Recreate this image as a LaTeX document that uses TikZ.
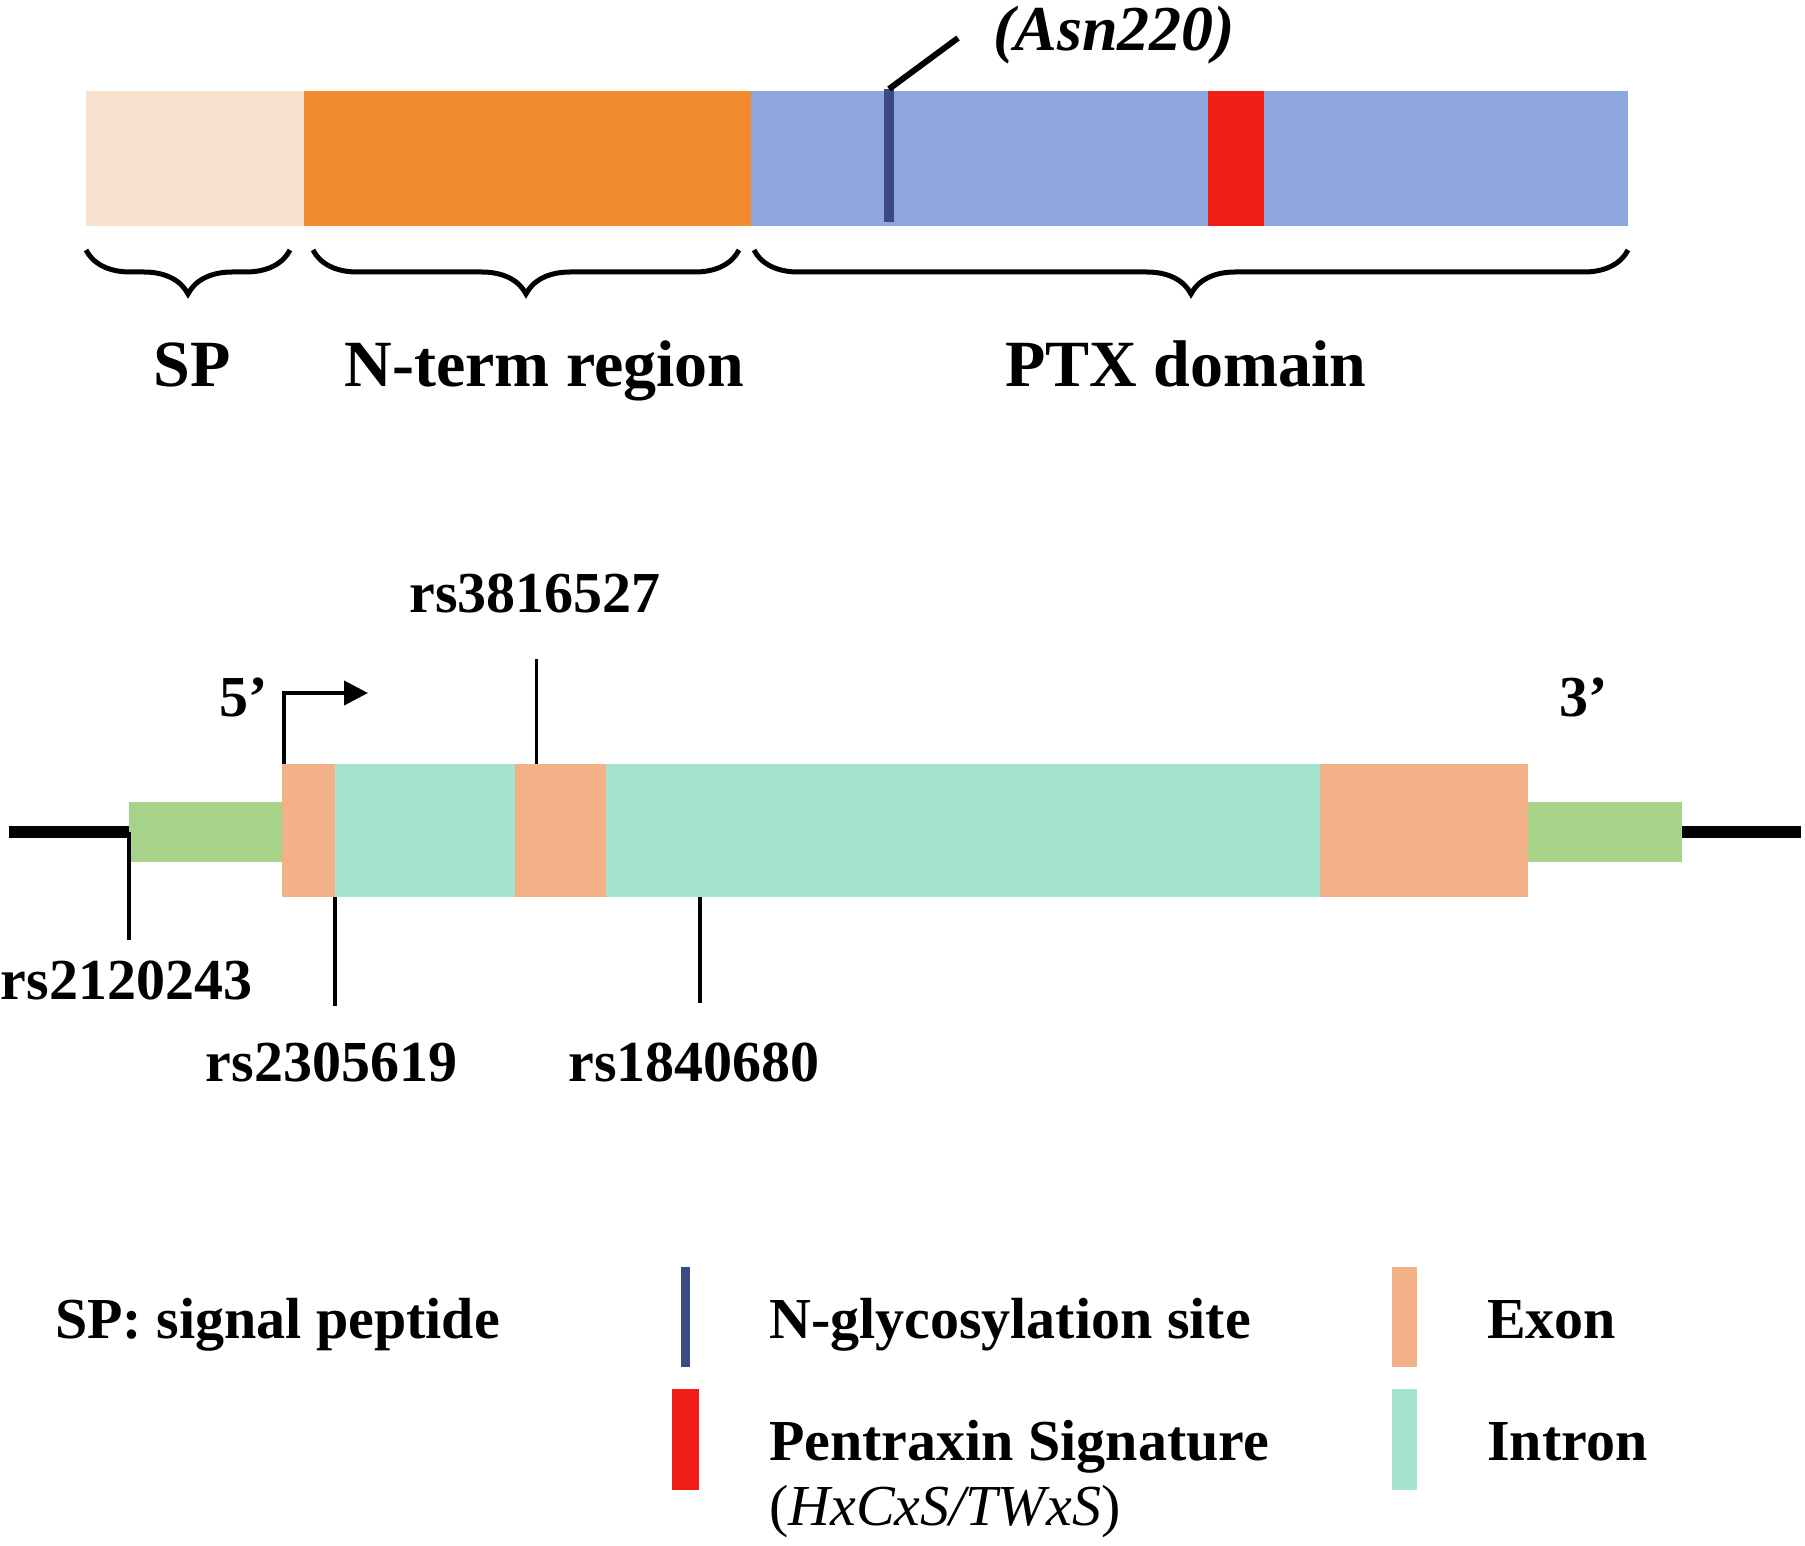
\documentclass[tikz,border=0pt]{standalone}
\usepackage{fontspec}
\setmainfont{Liberation Serif}
\usetikzlibrary{arrows.meta,decorations.pathreplacing}
\definecolor{spcol}{HTML}{F5E1CD}
\definecolor{ntcol}{HTML}{F28A30}
\definecolor{ptxcol}{HTML}{8EA6DE}
\definecolor{glycol}{HTML}{3B4A82}
\definecolor{pxcol}{HTML}{F01E14}
\definecolor{exoncol}{HTML}{F2B186}
\definecolor{introncol}{HTML}{A6E4D2}
\definecolor{utrcol}{HTML}{A6D28A}
\begin{document}
\begin{tikzpicture}[x=1pt,y=-1pt,
    seg/.style={rectangle, inner sep=0pt, outer sep=0pt, anchor=north west},
    lbl/.style={font=\fontsize{58}{62}\selectfont\bfseries, inner sep=0pt, anchor=base},
    biglbl/.style={font=\fontsize{66}{70}\selectfont\bfseries, inner sep=0pt, anchor=base},
    snp/.style={line width=3.5pt},
    brc/.style={decorate, decoration={brace, mirror, amplitude=44pt}, line width=5pt}
    ]
    \useasboundingbox (0,0) rectangle (1805,1546);
    % protein
    \node[seg, fill=spcol, minimum width=218pt, minimum height=135.5pt] (sp) at (86,91) {};
    \node[seg, fill=ntcol, minimum width=446.7pt, minimum height=135.5pt] (nterm) at (sp.north east) {};
    \node[seg, fill=ptxcol, minimum width=877.2pt, minimum height=135.5pt] (ptx) at (nterm.north east) {};
    \node[seg, fill=glycol, minimum width=10pt, minimum height=133pt] (glyc) at (884,89) {};
    \node[seg, fill=pxcol, minimum width=56.4pt, minimum height=135.5pt] (pxsig) at (1207.6,91) {};
    \node[biglbl, font=\fontsize{64}{68}\selectfont\bfseries\itshape] (asn) at (1114,50.6) {(Asn220)};
    \coordinate (asnend) at (958,38);
    \draw[line width=6pt] (glyc.north) -- (asnend);
    \draw[brc] (86,250) -- (290,250);
    \draw[brc] (313,250) -- (739,250);
    \draw[brc] (754,250) -- (1628,250);
    \node[biglbl] (splbl) at (192,386) {SP};
    \node[biglbl] (ntlbl) at (544.5,386) {N-term region};
    \node[biglbl] (ptxlbl) at (1186,386) {PTX domain};
    % gene
    \coordinate (lend) at (9,832);
    \coordinate (rend) at (1801,832);
    \node[seg, fill=utrcol, minimum width=153pt, minimum height=60pt] (utr5) at (129,802) {};
    \node[seg, fill=exoncol, minimum width=53pt, minimum height=133pt] (exon1) at (282,764) {};
    \node[seg, fill=introncol, minimum width=179.6pt, minimum height=133pt] (intron1) at (exon1.north east) {};
    \node[seg, fill=exoncol, minimum width=90.9pt, minimum height=133pt] (exon2) at (intron1.north east) {};
    \node[seg, fill=introncol, minimum width=714.9pt, minimum height=133pt] (intron2) at (exon2.north east) {};
    \node[seg, fill=exoncol, minimum width=207.2pt, minimum height=133pt] (exon3) at (intron2.north east) {};
    \node[seg, fill=utrcol, minimum width=154.4pt, minimum height=60pt] (utr3) at (1527.6,802) {};
    \draw[line width=12pt] (lend) -- (utr5.west);
    \draw[line width=12pt] (utr3.east) -- (rend);
    \node[lbl] (rsa) at (126.6,999) {rs2120243};
    \node[lbl] (rsb) at (331.5,1081) {rs2305619};
    \node[lbl] (rsc) at (535,612) {rs3816527};
    \node[lbl] (rsd) at (694,1081) {rs1840680};
    \draw[snp, shorten >=20pt] (utr5.west) -- (utr5.west |- rsa.north);
    \draw[snp, shorten >=36pt] (intron1.south west) -- (intron1.south west |- rsb.north);
    \draw[snp, shorten <=46pt] ([xshift=22pt]exon2.north west |- rsc.south) -- ([xshift=22pt]exon2.north west);
    \draw[snp, shorten >=39pt] ([xshift=94.5pt]intron2.south west) -- ([xshift=94.5pt]intron2.south west |- rsd.north);
    \node[lbl] (five) at (244,716) {5’};
    \node[lbl] (three) at (1584,716) {3’};
    \coordinate (tss) at (368,693);
    \draw[line width=4pt, -{Triangle[length=24pt,width=24pt]}] ([xshift=2pt]exon1.north west) |- (tss);
    % legend
    \node[lbl, anchor=base west] (spleg) at (55,1338) {SP: signal peptide};
    \node[seg, fill=glycol, minimum width=9pt, minimum height=100pt] (legglyc) at (680.5,1267) {};
    \node[seg, fill=pxcol, minimum width=27pt, minimum height=101pt] (legpx) at (672,1389) {};
    \node[seg, fill=exoncol, minimum width=25pt, minimum height=100pt] (legexon) at (1392,1267) {};
    \node[seg, fill=introncol, minimum width=25pt, minimum height=101pt] (legintron) at (1392,1389) {};
    \node[lbl, anchor=base west] (glyctxt) at (769,1338) {N-glycosylation site};
    \node[lbl, anchor=base west] (pxtxt) at (769,1460) {Pentraxin Signature};
    \node[lbl, anchor=base west, font=\fontsize{58}{62}\selectfont] (motif) at (769,1525) {(\textit{HxCxS/TWxS})};
    \node[lbl, anchor=base west] (exontxt) at (1487,1338) {Exon};
    \node[lbl, anchor=base west] (introntxt) at (1487,1460) {Intron};
  \end{tikzpicture}
\end{document}
